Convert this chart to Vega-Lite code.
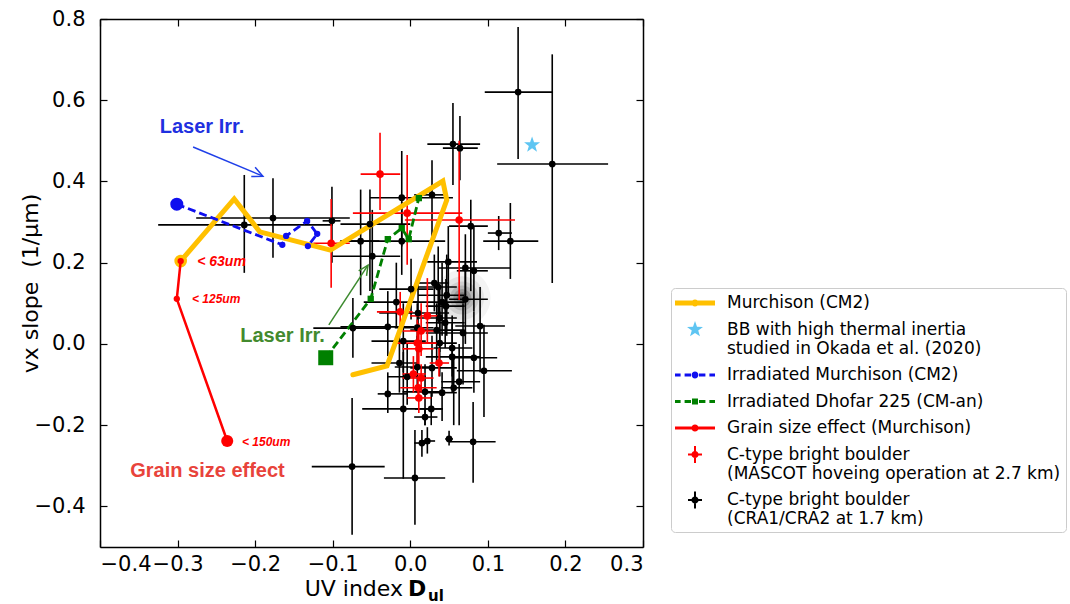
{
"$schema":"https://vega.github.io/schema/vega-lite/v6.json",
"width":543,"height":528,"autosize":"none",
"padding":{"left":100,"top":19,"right":427,"bottom":57},
"background":"white",
"config":{
 "view":{"stroke":null},
 "axis":{"labelFont":"DejaVu Sans","labelFontSize":21,"labelColor":"black","titleFont":"DejaVu Sans","titleFontSize":22,"titleFontWeight":"normal","titleColor":"black","tickColor":"black","domainColor":"black","tickSize":-7,"tickWidth":1.2,"domainWidth":1.5,"grid":false},
 "legend":{"orient":"none","legendX":571,"legendY":269,"title":null,"labelFont":"DejaVu Sans","labelFontSize":17,"labelColor":"black","labelLimit":0,"symbolSize":400,"symbolStrokeWidth":0,"symbolOpacity":1,"symbolOffset":9,"labelOffset":22,"padding":5,"rowPadding":8.5,"strokeColor":"#cccccc","fillColor":"white","cornerRadius":4}
},
"datasets":{
 "eb":[
  {"g":"k","x":0.139,"y":0.62,"x1":0.096,"x2":0.184,"y1":0.455,"y2":0.78},
  {"g":"k","x":0.183,"y":0.443,"x1":0.112,"x2":0.255,"y1":0.15,"y2":0.713},
  {"g":"k","x":0.055,"y":0.492,"x1":0.022,"x2":0.09,"y1":0.391,"y2":0.593},
  {"g":"k","x":0.064,"y":0.482,"x1":0.042,"x2":0.087,"y1":0.403,"y2":0.561},
  {"g":"k","x":-0.214,"y":0.293,"x1":-0.325,"x2":-0.1,"y1":0.175,"y2":0.416},
  {"g":"k","x":-0.177,"y":0.31,"x1":-0.276,"x2":-0.078,"y1":0.212,"y2":0.408},
  {"g":"k","x":-0.101,"y":0.303,"x1":-0.113,"x2":-0.09,"y1":0.2,"y2":0.387},
  {"g":"k","x":-0.052,"y":0.295,"x1":-0.09,"x2":0.0,"y1":0.13,"y2":0.38},
  {"g":"k","x":-0.064,"y":0.253,"x1":-0.09,"x2":-0.04,"y1":0.12,"y2":0.38},
  {"g":"k","x":-0.049,"y":0.216,"x1":-0.1,"x2":-0.013,"y1":0.12,"y2":0.33},
  {"g":"k","x":-0.011,"y":0.36,"x1":-0.052,"x2":0.055,"y1":0.24,"y2":0.475},
  {"g":"k","x":-0.011,"y":0.253,"x1":-0.09,"x2":0.045,"y1":0.17,"y2":0.35},
  {"g":"k","x":0.028,"y":0.367,"x1":0.005,"x2":0.045,"y1":0.256,"y2":0.452},
  {"g":"k","x":0.078,"y":0.29,"x1":0.05,"x2":0.1,"y1":0.13,"y2":0.355},
  {"g":"k","x":0.114,"y":0.273,"x1":0.1,"x2":0.131,"y1":0.231,"y2":0.315},
  {"g":"k","x":0.129,"y":0.253,"x1":0.094,"x2":0.165,"y1":0.16,"y2":0.347},
  {"g":"k","x":0.049,"y":0.202,"x1":0.022,"x2":0.086,"y1":0.12,"y2":0.29},
  {"g":"k","x":0.071,"y":0.187,"x1":0.037,"x2":0.129,"y1":0.12,"y2":0.27},
  {"g":"k","x":0.082,"y":0.18,"x1":0.06,"x2":0.1,"y1":0.08,"y2":0.29},
  {"g":"k","x":0.001,"y":0.135,"x1":-0.04,"x2":0.03,"y1":0.06,"y2":0.21},
  {"g":"k","x":0.036,"y":0.14,"x1":0.0,"x2":0.06,"y1":0.05,"y2":0.24},
  {"g":"k","x":-0.018,"y":0.103,"x1":-0.06,"x2":0.01,"y1":0.04,"y2":0.2},
  {"g":"k","x":0.047,"y":0.12,"x1":0.01,"x2":0.07,"y1":0.02,"y2":0.22},
  {"g":"k","x":0.071,"y":0.11,"x1":0.05,"x2":0.1,"y1":0.0,"y2":0.2},
  {"g":"k","x":0.041,"y":0.103,"x1":0.0,"x2":0.07,"y1":0.02,"y2":0.2},
  {"g":"k","x":0.01,"y":0.076,"x1":-0.04,"x2":0.05,"y1":0.0,"y2":0.15},
  {"g":"k","x":0.038,"y":0.064,"x1":0.01,"x2":0.06,"y1":-0.02,"y2":0.14},
  {"g":"k","x":0.045,"y":0.052,"x1":0.02,"x2":0.07,"y1":-0.01,"y2":0.12},
  {"g":"k","x":-0.029,"y":0.042,"x1":-0.09,"x2":0.005,"y1":-0.03,"y2":0.13},
  {"g":"k","x":0.034,"y":0.034,"x1":0.0,"x2":0.07,"y1":-0.05,"y2":0.1},
  {"g":"k","x":0.09,"y":0.044,"x1":0.058,"x2":0.122,"y1":-0.07,"y2":0.14},
  {"g":"k","x":0.068,"y":0.027,"x1":0.02,"x2":0.1,"y1":-0.1,"y2":0.1},
  {"g":"k","x":-0.009,"y":0.007,"x1":-0.05,"x2":0.02,"y1":-0.07,"y2":0.1},
  {"g":"k","x":0.038,"y":0.002,"x1":0.01,"x2":0.06,"y1":-0.08,"y2":0.08},
  {"g":"k","x":0.054,"y":-0.01,"x1":0.03,"x2":0.08,"y1":-0.08,"y2":0.07},
  {"g":"k","x":0.054,"y":-0.032,"x1":0.02,"x2":0.09,"y1":-0.12,"y2":0.05},
  {"g":"k","x":0.082,"y":-0.034,"x1":0.055,"x2":0.112,"y1":-0.12,"y2":0.08},
  {"g":"k","x":-0.014,"y":-0.047,"x1":-0.05,"x2":0.01,"y1":-0.12,"y2":0.02},
  {"g":"k","x":0.009,"y":-0.057,"x1":-0.02,"x2":0.03,"y1":-0.12,"y2":0.02},
  {"g":"k","x":0.028,"y":-0.059,"x1":0.0,"x2":0.06,"y1":-0.13,"y2":0.02},
  {"g":"k","x":0.095,"y":-0.066,"x1":0.06,"x2":0.131,"y1":-0.18,"y2":0.047},
  {"g":"k","x":0.063,"y":-0.093,"x1":0.04,"x2":0.09,"y1":-0.2,"y2":0.0},
  {"g":"k","x":-0.004,"y":-0.081,"x1":-0.03,"x2":0.02,"y1":-0.15,"y2":0.0},
  {"g":"k","x":-0.029,"y":-0.123,"x1":-0.042,"x2":-0.003,"y1":-0.17,"y2":-0.07},
  {"g":"k","x":-0.009,"y":-0.16,"x1":-0.062,"x2":0.042,"y1":-0.332,"y2":-0.02},
  {"g":"k","x":0.019,"y":-0.118,"x1":-0.01,"x2":0.04,"y1":-0.2,"y2":-0.05},
  {"g":"k","x":0.041,"y":-0.12,"x1":0.02,"x2":0.06,"y1":-0.19,"y2":-0.07},
  {"g":"k","x":0.056,"y":-0.108,"x1":0.04,"x2":0.08,"y1":-0.2,"y2":-0.03},
  {"g":"k","x":0.027,"y":-0.16,"x1":0.006,"x2":0.042,"y1":-0.2,"y2":-0.12},
  {"g":"k","x":0.019,"y":-0.18,"x1":0.005,"x2":0.035,"y1":-0.2,"y2":-0.16},
  {"g":"k","x":0.015,"y":-0.244,"x1":0.005,"x2":0.025,"y1":-0.278,"y2":-0.212},
  {"g":"k","x":0.022,"y":-0.239,"x1":0.012,"x2":0.032,"y1":-0.27,"y2":-0.205},
  {"g":"k","x":0.05,"y":-0.234,"x1":0.045,"x2":0.055,"y1":-0.25,"y2":-0.214},
  {"g":"k","x":0.081,"y":-0.241,"x1":0.05,"x2":0.11,"y1":-0.342,"y2":-0.143},
  {"g":"k","x":-0.075,"y":-0.302,"x1":-0.127,"x2":-0.033,"y1":-0.47,"y2":-0.133},
  {"g":"k","x":0.006,"y":-0.33,"x1":-0.034,"x2":0.045,"y1":-0.445,"y2":-0.212},
  {"g":"k","x":-0.074,"y":0.039,"x1":-0.125,"x2":-0.03,"y1":-0.034,"y2":0.113},
  {"g":"k","x":0.031,"y":0.15,"x1":0.01,"x2":0.05,"y1":0.08,"y2":0.22},
  {"g":"k","x":0.046,"y":0.093,"x1":0.02,"x2":0.07,"y1":0.03,"y2":0.16},
  {"g":"k","x":0.009,"y":0.04,"x1":-0.02,"x2":0.03,"y1":-0.02,"y2":0.1},
  {"g":"r","x":-0.102,"y":0.248,"x1":-0.125,"x2":-0.078,"y1":0.138,"y2":0.357},
  {"g":"r","x":-0.039,"y":0.418,"x1":-0.064,"x2":-0.013,"y1":0.33,"y2":0.52},
  {"g":"r","x":-0.004,"y":0.322,"x1":-0.074,"x2":0.067,"y1":0.195,"y2":0.465},
  {"g":"r","x":0.063,"y":0.305,"x1":-0.007,"x2":0.135,"y1":0.108,"y2":0.5},
  {"g":"r","x":-0.013,"y":0.079,"x1":-0.043,"x2":0.003,"y1":0.03,"y2":0.128},
  {"g":"r","x":0.022,"y":0.069,"x1":0.0,"x2":0.04,"y1":0.0,"y2":0.162},
  {"g":"r","x":0.014,"y":0.032,"x1":-0.01,"x2":0.035,"y1":-0.03,"y2":0.1},
  {"g":"r","x":0.009,"y":0.002,"x1":-0.017,"x2":0.042,"y1":-0.06,"y2":0.06},
  {"g":"r","x":0.011,"y":-0.012,"x1":-0.01,"x2":0.03,"y1":-0.06,"y2":0.05},
  {"g":"r","x":0.037,"y":-0.047,"x1":0.025,"x2":0.05,"y1":-0.08,"y2":-0.01},
  {"g":"r","x":0.004,"y":-0.074,"x1":-0.01,"x2":0.02,"y1":-0.12,"y2":-0.03},
  {"g":"r","x":0.014,"y":-0.084,"x1":-0.01,"x2":0.03,"y1":-0.12,"y2":-0.05},
  {"g":"r","x":0.01,"y":-0.108,"x1":-0.013,"x2":0.034,"y1":-0.14,"y2":-0.08},
  {"g":"r","x":0.011,"y":-0.133,"x1":-0.004,"x2":0.027,"y1":-0.17,"y2":-0.1}
 ],
 "lines":[
  {"s":"m","o":1,"x":-0.296,"y":0.204},{"s":"m","o":2,"x":-0.227,"y":0.357},{"s":"m","o":3,"x":-0.194,"y":0.276},{"s":"m","o":4,"x":-0.103,"y":0.231},
  {"s":"m","o":5,"x":0.042,"y":0.401},{"s":"m","o":6,"x":0.047,"y":0.354},{"s":"m","o":7,"x":-0.03,"y":-0.054},{"s":"m","o":8,"x":-0.074,"y":-0.076},
  {"s":"b","o":1,"x":-0.301,"y":0.344},{"s":"b","o":2,"x":-0.165,"y":0.244},{"s":"b","o":3,"x":-0.16,"y":0.266},{"s":"b","o":4,"x":-0.133,"y":0.303},{"s":"b","o":5,"x":-0.12,"y":0.271},{"s":"b","o":6,"x":-0.132,"y":0.241},
  {"s":"d","o":1,"x":-0.109,"y":-0.034},{"s":"d","o":2,"x":-0.051,"y":0.111},{"s":"d","o":3,"x":-0.029,"y":0.258},{"s":"d","o":4,"x":-0.011,"y":0.285},{"s":"d","o":5,"x":-0.002,"y":0.258},{"s":"d","o":6,"x":0.011,"y":0.359},
  {"s":"g","o":1,"x":-0.296,"y":0.204},{"s":"g","o":2,"x":-0.301,"y":0.111},{"s":"g","o":3,"x":-0.236,"y":-0.239}
 ],
 "arrows":[
  {"a":"b","seg":1,"o":1,"x":-0.28,"y":0.485},{"a":"b","seg":1,"o":2,"x":-0.19,"y":0.413},
  {"a":"b","seg":2,"o":1,"x":-0.2,"y":0.435},{"a":"b","seg":2,"o":2,"x":-0.19,"y":0.413},{"a":"b","seg":2,"o":3,"x":-0.205,"y":0.412},
  {"a":"g","seg":1,"o":1,"x":-0.105,"y":0.047},{"a":"g","seg":1,"o":2,"x":-0.0545,"y":0.194},
  {"a":"g","seg":2,"o":1,"x":-0.0665,"y":0.18},{"a":"g","seg":2,"o":2,"x":-0.0545,"y":0.194},{"a":"g","seg":2,"o":3,"x":-0.0564,"y":0.1675}
 ],
 "blob":[{"x":0.067,"y":0.113}],
 "leg":[
  {"k":"Murchison (CM2)","x":1,"y":1},
  {"k":"BB with high thermal inertia|studied in Okada et al. (2020)","x":1,"y":1},
  {"k":"Irradiated Murchison (CM2)","x":1,"y":1},
  {"k":"Irradiated Dhofar 225 (CM-an)","x":1,"y":1},
  {"k":"Grain size effect (Murchison)","x":1,"y":1},
  {"k":"C-type bright boulder|(MASCOT hoveing operation at 2.7 km)","x":1,"y":1},
  {"k":"C-type bright boulder|(CRA1/CRA2 at 1.7 km)","x":1,"y":1}
 ]
},
"layer":[
 {"layer":[
  {"data":{"name":"blob"},"mark":{"type":"circle","size":3200,"opacity":0.05,"color":"#222222"},
   "encoding":{
    "x":{"field":"x","type":"quantitative","scale":{"domain":[-0.4,0.3],"nice":false,"zero":false},"axis":{"values":[-0.4,-0.3,-0.2,-0.1,0,0.1,0.2,0.3],"format":".1f","title":null,"labelPadding":13}},
    "y":{"field":"y","type":"quantitative","scale":{"domain":[-0.5,0.8],"nice":false,"zero":false},"axis":{"values":[-0.4,-0.2,0,0.2,0.4,0.6,0.8],"format":".1f","title":"vx slope\u00a0 (1/μm)","labelPadding":22,"titleX":-70,"titleY":264,"titleAlign":"center","titleBaseline":"middle","titleAngle":-90}}}},
  {"data":{"name":"blob"},"mark":{"type":"circle","size":1900,"opacity":0.07,"color":"#222222"},"encoding":{"x":{"field":"x","type":"quantitative"},"y":{"field":"y","type":"quantitative"}}},
  {"data":{"name":"blob"},"mark":{"type":"circle","size":1100,"opacity":0.1,"color":"#222222"},"encoding":{"x":{"field":"x","type":"quantitative"},"y":{"field":"y","type":"quantitative"}}},
  {"data":{"name":"blob"},"mark":{"type":"circle","size":620,"opacity":0.14,"color":"#222222"},"encoding":{"x":{"field":"x","type":"quantitative"},"y":{"field":"y","type":"quantitative"}}},
  {"data":{"name":"blob"},"mark":{"type":"circle","size":320,"opacity":0.2,"color":"#222222"},"encoding":{"x":{"field":"x","type":"quantitative"},"y":{"field":"y","type":"quantitative"}}},
  {"data":{"name":"blob"},"mark":{"type":"circle","size":130,"opacity":0.25,"color":"#222222"},"encoding":{"x":{"field":"x","type":"quantitative"},"y":{"field":"y","type":"quantitative"}}},
  {"data":{"name":"blob"},"mark":{"type":"circle","size":45,"opacity":0.3,"color":"#222222"},"encoding":{"x":{"field":"x","type":"quantitative"},"y":{"field":"y","type":"quantitative"}}},
  {"data":{"name":"eb"},"transform":[{"filter":"datum.g=='k'"}],"mark":{"type":"rule","color":"black","strokeWidth":1.6},
   "encoding":{"x":{"field":"x1","type":"quantitative"},"x2":{"field":"x2"},"y":{"field":"y","type":"quantitative"}}},
  {"data":{"name":"eb"},"transform":[{"filter":"datum.g=='k'"}],"mark":{"type":"rule","color":"black","strokeWidth":1.6},
   "encoding":{"y":{"field":"y1","type":"quantitative"},"y2":{"field":"y2"},"x":{"field":"x","type":"quantitative"}}},
  {"data":{"name":"eb"},"transform":[{"filter":"datum.g=='r'"}],"mark":{"type":"rule","color":"#ff0000","strokeWidth":1.6},
   "encoding":{"x":{"field":"x1","type":"quantitative"},"x2":{"field":"x2"},"y":{"field":"y","type":"quantitative"}}},
  {"data":{"name":"eb"},"transform":[{"filter":"datum.g=='r'"}],"mark":{"type":"rule","color":"#ff0000","strokeWidth":1.6},
   "encoding":{"y":{"field":"y1","type":"quantitative"},"y2":{"field":"y2"},"x":{"field":"x","type":"quantitative"}}},
  {"data":{"name":"lines"},"transform":[{"filter":"datum.s=='m'"}],"mark":{"type":"line","color":"#FFC000","strokeWidth":5,"strokeCap":"round","strokeJoin":"miter"},
   "encoding":{"x":{"field":"x","type":"quantitative"},"y":{"field":"y","type":"quantitative"},"order":{"field":"o"}}},
  {"data":{"name":"lines"},"transform":[{"filter":"datum.s=='m' && datum.o==1"}],"mark":{"type":"circle","color":"#FFC000","size":160,"opacity":1},
   "encoding":{"x":{"field":"x","type":"quantitative"},"y":{"field":"y","type":"quantitative"}}},
  {"data":{"name":"lines"},"transform":[{"filter":"datum.s=='g'"}],"mark":{"type":"line","color":"#ff0000","strokeWidth":2.5},
   "encoding":{"x":{"field":"x","type":"quantitative"},"y":{"field":"y","type":"quantitative"},"order":{"field":"o"}}},
  {"data":{"name":"lines"},"transform":[{"filter":"datum.s=='g' && datum.o<3"}],"mark":{"type":"circle","color":"#ff0000","size":40,"opacity":1},
   "encoding":{"x":{"field":"x","type":"quantitative"},"y":{"field":"y","type":"quantitative"}}},
  {"data":{"name":"lines"},"transform":[{"filter":"datum.s=='g' && datum.o==3"}],"mark":{"type":"circle","color":"#ff0000","size":145,"opacity":1},
   "encoding":{"x":{"field":"x","type":"quantitative"},"y":{"field":"y","type":"quantitative"}}},
  {"data":{"name":"lines"},"transform":[{"filter":"datum.s=='b'"}],"mark":{"type":"line","color":"#0F0FEF","strokeWidth":2.8,"strokeDash":[8,4]},
   "encoding":{"x":{"field":"x","type":"quantitative"},"y":{"field":"y","type":"quantitative"},"order":{"field":"o"}}},
  {"data":{"name":"lines"},"transform":[{"filter":"datum.s=='b' && datum.o>1"}],"mark":{"type":"circle","color":"#0F0FEF","size":40,"opacity":1},
   "encoding":{"x":{"field":"x","type":"quantitative"},"y":{"field":"y","type":"quantitative"}}},
  {"data":{"name":"lines"},"transform":[{"filter":"datum.s=='b' && datum.o==1"}],"mark":{"type":"circle","color":"#0F0FEF","size":170,"opacity":1},
   "encoding":{"x":{"field":"x","type":"quantitative"},"y":{"field":"y","type":"quantitative"}}},
  {"data":{"name":"lines"},"transform":[{"filter":"datum.s=='d'"}],"mark":{"type":"line","color":"#008000","strokeWidth":2.8,"strokeDash":[8,4]},
   "encoding":{"x":{"field":"x","type":"quantitative"},"y":{"field":"y","type":"quantitative"},"order":{"field":"o"}}},
  {"data":{"name":"lines"},"transform":[{"filter":"datum.s=='d' && datum.o>1"}],"mark":{"type":"square","color":"#008000","size":40,"opacity":1},
   "encoding":{"x":{"field":"x","type":"quantitative"},"y":{"field":"y","type":"quantitative"}}},
  {"data":{"name":"lines"},"transform":[{"filter":"datum.s=='d' && datum.o==1"}],"mark":{"type":"square","color":"#008000","size":225,"opacity":1},
   "encoding":{"x":{"field":"x","type":"quantitative"},"y":{"field":"y","type":"quantitative"}}},
  {"data":{"values":[{"x":0.157,"y":0.49}]},"mark":{"type":"point","filled":true,"opacity":1,"size":1600,"strokeWidth":0,"color":"#5EC5F2","shape":"M0,-0.42L0.1,-0.1375L0.3995,-0.1298L0.1617,0.0525L0.2469,0.3398L0,0.17L-0.2469,0.3398L-0.1617,0.0525L-0.3995,-0.1298L-0.1,-0.1375Z"},
   "encoding":{"x":{"field":"x","type":"quantitative"},"y":{"field":"y","type":"quantitative"}}},
  {"data":{"name":"eb"},"transform":[{"filter":"datum.g=='k'"}],"mark":{"type":"circle","color":"black","size":45,"opacity":1},
   "encoding":{"x":{"field":"x","type":"quantitative"},"y":{"field":"y","type":"quantitative"}}},
  {"data":{"name":"eb"},"transform":[{"filter":"datum.g=='r'"}],"mark":{"type":"circle","color":"#ff0000","size":58,"opacity":1},
   "encoding":{"x":{"field":"x","type":"quantitative"},"y":{"field":"y","type":"quantitative"}}},
  {"data":{"name":"arrows"},"transform":[{"filter":"datum.a=='b'"}],"mark":{"type":"line","color":"#1F3FE8","strokeWidth":1.5},
   "encoding":{"x":{"field":"x","type":"quantitative"},"y":{"field":"y","type":"quantitative"},"detail":{"field":"seg"},"order":{"field":"o"}}},
  {"data":{"name":"arrows"},"transform":[{"filter":"datum.a=='g'"}],"mark":{"type":"line","color":"#3C8A2E","strokeWidth":1.5},
   "encoding":{"x":{"field":"x","type":"quantitative"},"y":{"field":"y","type":"quantitative"},"detail":{"field":"seg"},"order":{"field":"o"}}},
  {"data":{"values":[{"t":"Laser Irr.","x":-0.2685,"y":0.534}]},"mark":{"type":"text","font":"Liberation Sans","fontWeight":"bold","fontSize":20,"color":"#1F30E0","align":"center","baseline":"middle"},
   "encoding":{"x":{"field":"x","type":"quantitative"},"y":{"field":"y","type":"quantitative"},"text":{"field":"t"}}},
  {"data":{"values":[{"t":"Laser Irr.","x":-0.1647,"y":0.0197}]},"mark":{"type":"text","font":"Liberation Sans","fontWeight":"bold","fontSize":20,"color":"#438A2E","align":"center","baseline":"middle"},
   "encoding":{"x":{"field":"x","type":"quantitative"},"y":{"field":"y","type":"quantitative"},"text":{"field":"t"}}},
  {"data":{"values":[{"t":"Grain size effect","x":-0.2614,"y":-0.3124}]},"mark":{"type":"text","font":"Liberation Sans","fontWeight":"bold","fontSize":20,"color":"#E8433B","align":"center","baseline":"middle"},
   "encoding":{"x":{"field":"x","type":"quantitative"},"y":{"field":"y","type":"quantitative"},"text":{"field":"t"}}},
  {"data":{"values":[{"t":"< 63um","x":-0.2747,"y":0.2017}]},"mark":{"type":"text","font":"Liberation Sans","fontWeight":"bold","fontStyle":"italic","fontSize":14,"color":"#ff0000","align":"left","baseline":"middle"},
   "encoding":{"x":{"field":"x","type":"quantitative"},"y":{"field":"y","type":"quantitative"},"text":{"field":"t"}}},
  {"data":{"values":[{"t":"< 125um","x":-0.2814,"y":0.111},{"t":"< 150um","x":-0.217,"y":-0.241}]},"mark":{"type":"text","font":"Liberation Sans","fontWeight":"bold","fontStyle":"italic","fontSize":12,"color":"#ff0000","align":"left","baseline":"middle"},
   "encoding":{"x":{"field":"x","type":"quantitative"},"y":{"field":"y","type":"quantitative"},"text":{"field":"t"}}},
  {"data":{"values":[{"t":"UV index","x":-0.0094,"y":-0.6216}]},"mark":{"type":"text","font":"DejaVu Sans","fontSize":22,"color":"black","align":"right","baseline":"alphabetic"},
   "encoding":{"x":{"field":"x","type":"quantitative"},"y":{"field":"y","type":"quantitative"},"text":{"field":"t"}}},
  {"data":{"values":[{"t":"D","x":-0.003,"y":-0.6216}]},"mark":{"type":"text","font":"DejaVu Sans","fontWeight":"bold","fontSize":22,"color":"black","align":"left","baseline":"alphabetic"},
   "encoding":{"x":{"field":"x","type":"quantitative"},"y":{"field":"y","type":"quantitative"},"text":{"field":"t"}}},
  {"data":{"values":[{"t":"ul","x":0.0228,"y":-0.6335}]},"mark":{"type":"text","font":"DejaVu Sans","fontWeight":"bold","fontSize":15,"color":"black","align":"left","baseline":"alphabetic"},
   "encoding":{"x":{"field":"x","type":"quantitative"},"y":{"field":"y","type":"quantitative"},"text":{"field":"t"}}}
 ]},
 {"data":{"name":"leg"},"mark":{"type":"point","filled":true,"opacity":1,"size":400,"strokeWidth":0,"clip":true},
  "encoding":{
   "x":{"field":"x","type":"quantitative","scale":{"domain":[-0.4,0.3],"nice":false,"zero":false},"axis":{"orient":"top","labels":false,"title":null,"values":[-0.4,-0.3,-0.2,-0.1,0,0.1,0.2,0.3]}},
   "y":{"field":"y","type":"quantitative","scale":{"domain":[-0.5,0.8],"nice":false,"zero":false},"axis":{"orient":"right","labels":false,"title":null,"values":[-0.4,-0.2,0,0.2,0.4,0.6,0.8]}},
   "color":{"field":"k","type":"nominal","sort":null,
     "scale":{"domain":["Murchison (CM2)","BB with high thermal inertia|studied in Okada et al. (2020)","Irradiated Murchison (CM2)","Irradiated Dhofar 225 (CM-an)","Grain size effect (Murchison)","C-type bright boulder|(MASCOT hoveing operation at 2.7 km)","C-type bright boulder|(CRA1/CRA2 at 1.7 km)"],
       "range":["#FFC000","#5EC5F2","#0F0FEF","#008000","#ff0000","#ff0000","#000000"]},
     "legend":{"labelExpr":"split(datum.label, '|')"}},
   "shape":{"field":"k","type":"nominal","sort":null,
     "scale":{"domain":["Murchison (CM2)","BB with high thermal inertia|studied in Okada et al. (2020)","Irradiated Murchison (CM2)","Irradiated Dhofar 225 (CM-an)","Grain size effect (Murchison)","C-type bright boulder|(MASCOT hoveing operation at 2.7 km)","C-type bright boulder|(CRA1/CRA2 at 1.7 km)"],
       "range":[
        "M-2,-0.24H2V0.24H-2Z M-0.36,0A0.36,0.36 0 1,1 0.36,0A0.36,0.36 0 1,1 -0.36,0Z",
        "M0,-0.84L0.2,-0.275L0.799,-0.2596L0.3234,0.105L0.4938,0.6796L0,0.34L-0.4938,0.6796L-0.3234,0.105L-0.799,-0.2596L-0.2,-0.275Z",
        "M-2,-0.15H-1.44V0.15H-2Z M-1.04,-0.15H-0.4V0.15H-1.04Z M0.4,-0.15H1.04V0.15H0.4Z M1.44,-0.15H2V0.15H1.44Z M-0.34,0A0.34,0.34 0 1,1 0.34,0A0.34,0.34 0 1,1 -0.34,0Z",
        "M-2,-0.15H-1.44V0.15H-2Z M-1.04,-0.15H-0.4V0.15H-1.04Z M0.4,-0.15H1.04V0.15H0.4Z M1.44,-0.15H2V0.15H1.44Z M-0.3,-0.3H0.3V0.3H-0.3Z",
        "M-2,-0.14H2V0.14H-2Z M-0.36,0A0.36,0.36 0 1,1 0.36,0A0.36,0.36 0 1,1 -0.36,0Z",
        "M-0.1,-0.84H0.1V0.84H-0.1Z M-0.7,-0.1H0.7V0.1H-0.7Z M-0.36,0A0.36,0.36 0 1,1 0.36,0A0.36,0.36 0 1,1 -0.36,0Z",
        "M-0.1,-0.84H0.1V0.84H-0.1Z M-0.7,-0.1H0.7V0.1H-0.7Z M-0.36,0A0.36,0.36 0 1,1 0.36,0A0.36,0.36 0 1,1 -0.36,0Z"
       ]},
     "legend":{"labelExpr":"split(datum.label, '|')"}}
  }}
],
"resolve":{"axis":{"x":"independent","y":"independent"}}
}
